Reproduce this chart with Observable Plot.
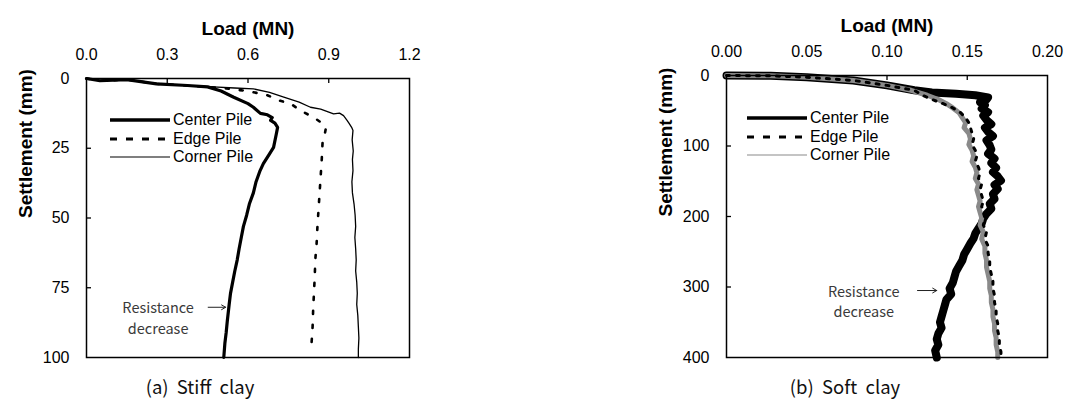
<!DOCTYPE html>
<html><head><meta charset="utf-8">
<script src="https://cdn.jsdelivr.net/npm/d3@7"></script>
<script src="https://cdn.jsdelivr.net/npm/@observablehq/plot@0.6"></script>
<style>
body{margin:0;background:#fff;}
#fig{position:relative;width:1069px;height:401px;overflow:hidden;background:#fff;font-family:"Liberation Sans",Arial,sans-serif;}
.panel{position:absolute;top:0;overflow:visible;}
.caption{position:absolute;top:373px;font-family:"Noto Sans CJK KR","Noto Sans",sans-serif;font-size:18.5px;color:#111;white-space:pre;transform:translateX(-50%);}
.legend{position:absolute;font-family:"Liberation Sans",Arial,sans-serif;font-size:16px;color:#000;}
.legend .row{display:flex;align-items:center;height:18.5px;}
.legend svg{display:block;margin-right:3px;}
</style></head>
<body><div id="fig"></div>
<script>
// ---- tick labels / categories ----
const seriesNames = ["Center Pile", "Edge Pile", "Corner Pile"];
const stiffLoadTicks = [0, 0.3, 0.6, 0.9, 1.2];
const stiffSettleTicks = [0, 25, 50, 75, 100];
const softLoadTicks = [0, 0.05, 0.10, 0.15, 0.20];
const softSettleTicks = [0, 100, 200, 300, 400];

// ---- (a) Stiff clay : [load (MN), settlement (mm)] ----
const stiffCenter = [[0,0],[0.05,0.8],[0.15,0.4],[0.26,1.9],[0.375,2.5],[0.45,3],[0.5,4.5],[0.547,6.7],[0.6,9],[0.62,10.3],[0.646,12.5],[0.672,13],[0.69,14],[0.684,15],[0.70,16],[0.71,17.5],[0.705,20],[0.695,24.7],[0.68,27],[0.657,30.5],[0.645,33],[0.63,37],[0.62,41],[0.605,45],[0.595,49],[0.583,53],[0.575,57],[0.567,61],[0.56,65],[0.551,69],[0.543,73],[0.535,77],[0.53,81],[0.523,87],[0.519,91],[0.514,95],[0.51,100]];
const stiffEdge = [[0,0],[0.05,0.8],[0.15,0.4],[0.26,1.9],[0.375,2.5],[0.45,3],[0.52,3.6],[0.6,4.5],[0.672,6],[0.72,8],[0.758,9],[0.795,11.5],[0.845,14],[0.875,16],[0.89,17.5],[0.885,20],[0.877,23],[0.874,29],[0.87,35],[0.866,41],[0.862,47],[0.858,53],[0.855,59],[0.85,65],[0.848,71],[0.845,77],[0.842,83],[0.84,89],[0.836,95]];
const stiffCorner = [[0,0],[0.05,0.8],[0.15,0.4],[0.26,1.9],[0.375,2.5],[0.47,3],[0.55,3.4],[0.62,3.7],[0.68,5],[0.733,6.7],[0.79,8.5],[0.832,10.3],[0.87,11],[0.918,12.7],[0.94,12.4],[0.955,13.3],[0.968,15],[0.975,16],[0.985,17.5],[0.99,18.6],[0.987,22],[0.991,26],[0.988,29],[0.99,33],[0.986,37],[0.988,41],[0.994,45],[0.998,49],[1.0,53],[0.997,57],[1.0,61],[1.002,65],[1.0,69],[1.004,73],[1.006,77],[1.004,81],[1.008,85],[1.01,89],[1.012,93],[1.01,97],[1.01,100]];

// ---- (b) Soft clay : [load (MN), settlement (mm)] ----
const softCenter = [[0,0],[0.0275,0.5],[0.05,2.5],[0.079,7],[0.10,14],[0.117,21],[0.128,24],[0.143,26],[0.155,28],[0.163,31],[0.162,34],[0.158,38],[0.161,42],[0.159,47],[0.163,52],[0.16,57],[0.162,63],[0.165,69],[0.161,74],[0.163,80],[0.166,86],[0.162,92],[0.164,99],[0.165,105],[0.163,111],[0.167,118],[0.165,124],[0.168,131],[0.166,137],[0.169,143],[0.171,149],[0.167,155],[0.169,161],[0.166,168],[0.167,175],[0.164,182],[0.165,189],[0.162,196],[0.16,203],[0.159,210],[0.157,217],[0.155,224],[0.154,231],[0.152,238],[0.15,246],[0.148,254],[0.147,262],[0.145,270],[0.143,278],[0.142,286],[0.141,294],[0.139,302],[0.14,310],[0.137,318],[0.136,326],[0.135,334],[0.134,342],[0.133,350],[0.134,358],[0.132,366],[0.131,374],[0.132,382],[0.13,390],[0.131,400]];
const softEdge = [[0,0],[0.0275,0.5],[0.05,2.5],[0.079,7],[0.10,14],[0.117,21],[0.122,28],[0.128,34],[0.135,40],[0.141,46],[0.146,53],[0.149,60],[0.151,67],[0.152,74],[0.153,82],[0.154,90],[0.153,98],[0.155,106],[0.156,114],[0.155,122],[0.157,130],[0.158,138],[0.157,146],[0.159,154],[0.158,162],[0.159,170],[0.16,178],[0.159,186],[0.16,194],[0.161,202],[0.16,212],[0.162,222],[0.161,232],[0.163,242],[0.163,252],[0.164,262],[0.164,272],[0.165,282],[0.166,292],[0.166,302],[0.167,312],[0.167,322],[0.168,332],[0.168,342],[0.169,352],[0.169,362],[0.17,372],[0.17,382],[0.171,392],[0.171,400]];
const softCorner = [[0,0],[0.0275,0.5],[0.05,2.5],[0.079,7],[0.10,14],[0.115,21],[0.125,28],[0.132,34],[0.137,40],[0.141,46],[0.145,53],[0.147,60],[0.149,67],[0.148,74],[0.151,82],[0.152,90],[0.151,98],[0.153,106],[0.154,114],[0.153,122],[0.155,130],[0.156,138],[0.155,146],[0.157,154],[0.156,162],[0.157,170],[0.158,178],[0.157,186],[0.158,194],[0.159,202],[0.158,212],[0.16,222],[0.159,232],[0.161,242],[0.161,252],[0.162,262],[0.162,272],[0.163,282],[0.164,292],[0.164,302],[0.165,312],[0.165,322],[0.166,332],[0.166,342],[0.167,352],[0.167,362],[0.168,372],[0.168,382],[0.169,392],[0.169,400]];

// ---- annotations (data units) ----
const stiffNote = {text: "Resistance\ndecrease", load: 0.266, settlement: 85.5, arrowFrom: 0.452, arrowTo: 0.517, arrowAt: 82};
const softNote = {text: "Resistance\ndecrease", load: 0.0855, settlement: 319, arrowFrom: 0.119, arrowTo: 0.131, arrowAt: 305};

const FONT = '"Liberation Sans", Arial, sans-serif';
const NOTEFONT = '"Noto Sans CJK KR", "Noto Sans", sans-serif';

function panel(o) {
  const W = 430, H = 370;
  const pw = W - o.ml - o.mr, ph = H - o.mt - o.mb;
  const s = o.styles;
  const svg = Plot.plot({
    width: W, height: H,
    marginLeft: o.ml, marginRight: o.mr, marginTop: o.mt, marginBottom: o.mb,
    style: {fontFamily: FONT, fontSize: "16px", color: "black", background: "transparent", overflow: "visible"},
    x: {domain: o.xDomain},
    y: {domain: o.yDomain, reverse: true},
    marks: [
      Plot.axisX(o.xTicks, {anchor: "top", tickSize: 0, tickPadding: 19, tickFormat: o.xFmt, fontSize: 16, label: null}),
      Plot.axisY(o.yTicks, {anchor: "left", tickSize: 0, tickPadding: 17, fontSize: 16, label: null}),
      Plot.tickX(o.xTicks.slice(1, -1), {x: d => d, insetBottom: ph - 5, stroke: "black", strokeWidth: 1.3}),
      Plot.tickY(o.yTicks.slice(1, -1), {y: d => d, insetRight: pw - 5, stroke: "black", strokeWidth: 1.3}),
      ...o.order.map(i => Plot.line(o.series[i], {x: p => p[0], y: p => p[1], stroke: s[i].color, strokeWidth: s[i].width, strokeDasharray: s[i].dash, strokeLinejoin: "round"})),
      Plot.text([o.note], {x: "load", y: "settlement", text: "text", fontSize: 14.5, fill: "#3a3a3a", lineHeight: 1.4, fontFamily: NOTEFONT}),
      Plot.arrow([o.note], {x1: "arrowFrom", x2: "arrowTo", y1: "arrowAt", y2: "arrowAt", stroke: "#222", strokeWidth: 1, headLength: 7}),
      Plot.frame({stroke: "black", strokeWidth: 1.5}),
      Plot.text(["Load (MN)"], {text: d => d, frameAnchor: "top", dy: -57, fontWeight: "bold", fontSize: 19}),
      Plot.text(["Settlement (mm)"], {text: d => d, frameAnchor: "left", dx: -61, rotate: -90, fontWeight: "bold", fontSize: 19})
    ]
  });
  svg.classList.add("panel");
  svg.style.left = o.left + "px";
  return svg;
}

const fig = document.getElementById("fig");

const stiffStyles = [
  {color: "black", width: 3.2, dash: null},
  {color: "black", width: 2.6, dash: "3,11"},
  {color: "black", width: 1.3, dash: null}
];
const softStyles = [
  {color: "black", width: 8, dash: null},
  {color: "black", width: 3, dash: "3,7"},
  {color: "#8a8a8a", width: 5, dash: null}
];

fig.appendChild(panel({
  left: 0, ml: 86, mr: 21, mt: 78, mb: 13,
  xDomain: [0, 1.2], yDomain: [0, 100],
  xTicks: stiffLoadTicks, yTicks: stiffSettleTicks, xFmt: d3.format(".1f"),
  series: [stiffCenter, stiffEdge, stiffCorner], styles: stiffStyles, note: stiffNote, order: [0, 1, 2]
}));
fig.appendChild(panel({
  left: 640, ml: 86, mr: 23, mt: 75, mb: 13,
  xDomain: [0, 0.2], yDomain: [0, 400],
  xTicks: softLoadTicks, yTicks: softSettleTicks, xFmt: d3.format(".2f"),
  series: [softCenter, softEdge, softCorner], styles: softStyles, note: softNote, order: [0, 2, 1]
}));

// legends (inside plot areas)
function legend(left, top, legendStyles) {
  const div = d3.select(fig).append("div").attr("class", "legend")
    .style("left", left + "px").style("top", top + "px");
  seriesNames.forEach((name, i) => {
    const row = div.append("div").attr("class", "row");
    const svg = row.append("svg").attr("width", 60).attr("height", 10);
    svg.append("line").attr("x1", 0).attr("x2", 60).attr("y1", 5).attr("y2", 5)
      .attr("stroke", legendStyles[i].color).attr("stroke-width", legendStyles[i].width)
      .attr("stroke-dasharray", legendStyles[i].dash);
    row.append("span").text(name);
  });
}
legend(110, 111, [
  {color: "black", width: 3.5, dash: null},
  {color: "black", width: 3, dash: "7,9"},
  {color: "black", width: 1.2, dash: null}
]);
legend(747, 109, [
  {color: "black", width: 3.5, dash: null},
  {color: "black", width: 3, dash: "7,9"},
  {color: "#8a8a8a", width: 1.2, dash: null}
]);

// captions
const captions = [{text: "(a)  Stiff  clay", x: 200}, {text: "(b)  Soft  clay", x: 845}];
captions.forEach(c => d3.select(fig).append("div").attr("class", "caption").style("left", c.x + "px").text(c.text));
</script>
</body></html>
